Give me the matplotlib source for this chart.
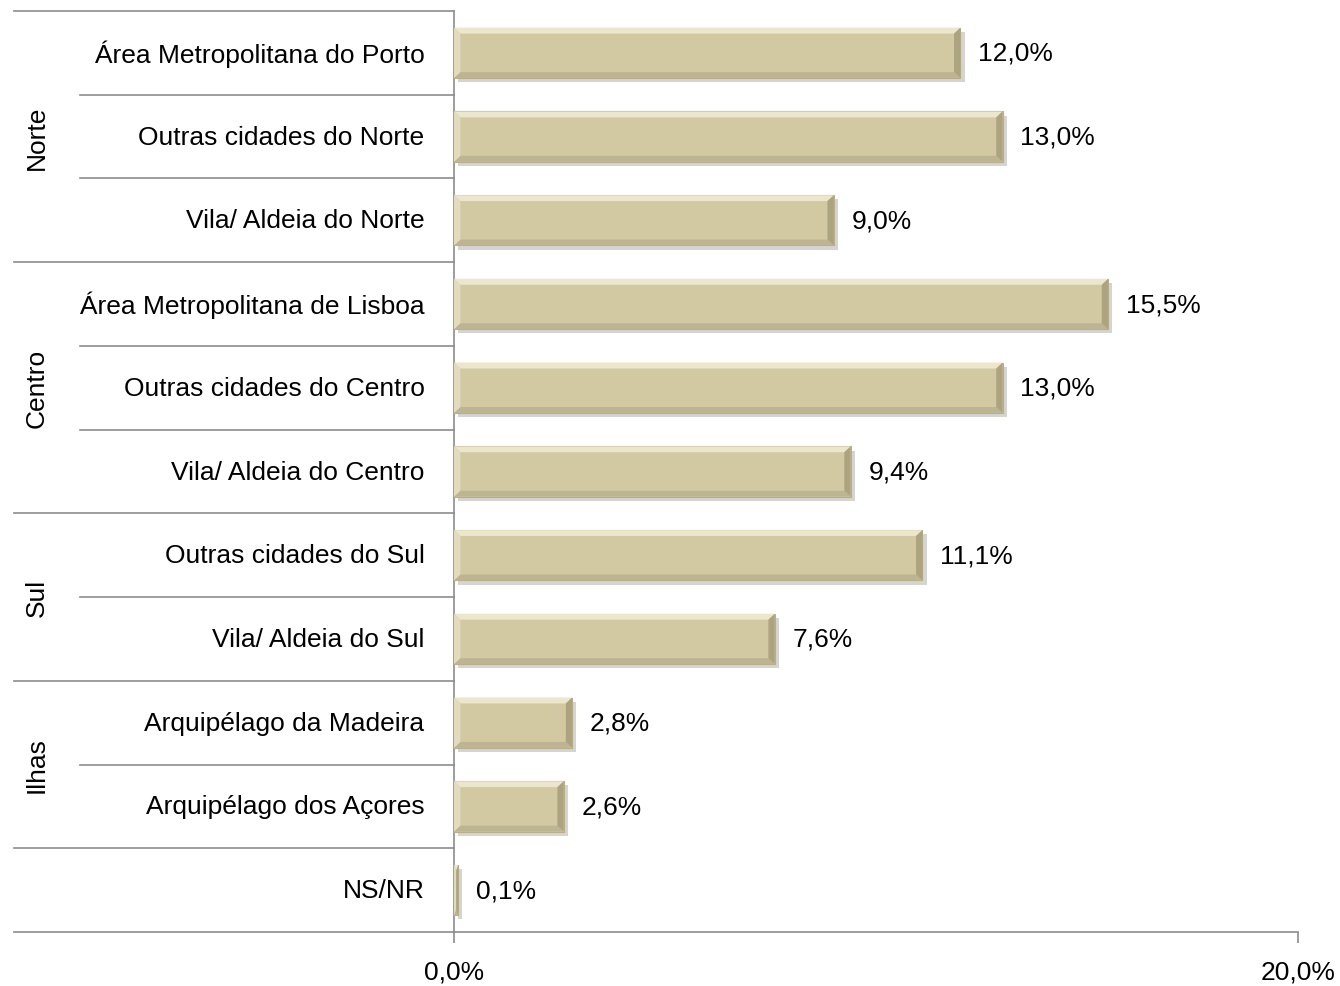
import matplotlib
matplotlib.use("Agg")
import matplotlib.pyplot as plt
import matplotlib.patheffects as pe
from matplotlib import font_manager
from matplotlib.patches import Polygon

categories = [
    "Área Metropolitana do Porto",
    "Outras cidades do Norte",
    "Vila/ Aldeia do Norte",
    "Área Metropolitana de Lisboa",
    "Outras cidades do Centro",
    "Vila/ Aldeia do Centro",
    "Outras cidades do Sul",
    "Vila/ Aldeia do Sul",
    "Arquipélago da Madeira",
    "Arquipélago dos Açores",
    "NS/NR",
]
values = [12.0, 13.0, 9.0, 15.5, 13.0, 9.4, 11.1, 7.6, 2.8, 2.6, 0.1]
groups = ["Norte", "Centro", "Sul", "Ilhas"]
group_sizes = [3, 3, 2, 2]

names = {f.name for f in font_manager.fontManager.ttflist}
family = "Liberation Sans Narrow" if "Liberation Sans Narrow" in names else "Liberation Sans"
plt.rcParams["font.family"] = [family, "DejaVu Sans"]
FS = 19 if family == "Liberation Sans" else 21

GREY = "#8c8c8c"
FACE = "#d2c9a3"

fig = plt.figure(figsize=(13.4, 9.87), dpi=100)
ax = fig.add_axes([454 / 1340, 1 - 933 / 987, 844 / 1340, 921 / 987])

ypos = list(range(len(values)))
bars = ax.barh(ypos, values, height=0.6, color=FACE, edgecolor="#b8af8a", linewidth=0.8,
               zorder=3)
for b in bars:
    b.set_path_effects([pe.SimplePatchShadow(offset=(3, -3), alpha=0.22), pe.Normal()])

# bevel edges
for y, v in zip(ypos, values):
    t, s = 0.07, min(0.15, v / 2)
    top, bot = y - 0.3, y + 0.3
    ax.add_patch(Polygon([(0, top), (v, top), (v - s, top + t), (s, top + t)],
                         closed=True, fc="#ebe6cc", ec="none", zorder=4))
    ax.add_patch(Polygon([(0, bot), (v, bot), (v - s, bot - t), (s, bot - t)],
                         closed=True, fc="#bdb591", ec="none", zorder=4))
    ax.add_patch(Polygon([(v, top), (v, bot), (v - s, bot - t), (v - s, top + t)],
                         closed=True, fc="#aca47f", ec="none", zorder=4))
    ax.add_patch(Polygon([(0, top), (0, bot), (s, bot - t), (s, top + t)],
                         closed=True, fc="#e2dbbd", ec="none", zorder=4))
    ax.text(v + 0.42, y, f"{v:.1f}%".replace(".", ","), va="center", ha="left",
            fontsize=FS, zorder=5)

ax.set_xlim(0, 20)
ax.set_ylim(len(values) - 0.5, -0.5)
ax.set_xticks([0, 20])
ax.set_xticklabels(["0,0%", "20,0%"], fontsize=FS)
ax.set_yticks([])
ax.tick_params(axis="x", length=8, color=GREY, width=1.2, pad=12)
for side in ["top", "right"]:
    ax.spines[side].set_visible(False)
for side in ["left", "bottom"]:
    ax.spines[side].set_color(GREY)
    ax.spines[side].set_linewidth(1.2)

trans = ax.get_yaxis_transform()
x_outer = (14 - 454) / 844
x_inner = (80 - 454) / 844

# category labels
for y, name in zip(ypos, categories):
    ax.text(-0.035, y, name, transform=trans, ha="right", va="center", fontsize=FS)

# separator lines
bounds = [-0.5]
for n in group_sizes:
    bounds.append(bounds[-1] + n)
bounds.append(len(values) - 0.5)
for yb in bounds:
    ax.plot([x_outer, 0], [yb, yb], transform=trans, color=GREY, lw=1.2, clip_on=False)
for i in range(len(values)):
    yb = i - 0.5
    if yb not in bounds:
        ax.plot([x_inner, 0], [yb, yb], transform=trans, color=GREY, lw=1.2, clip_on=False)

# group labels
start = -0.5
for g, n in zip(groups, group_sizes):
    ax.text((37 - 454) / 844, start + n / 2, g, transform=trans, rotation=90,
            ha="center", va="center", fontsize=FS)
    start += n

fig.savefig("out.png", dpi=100)
